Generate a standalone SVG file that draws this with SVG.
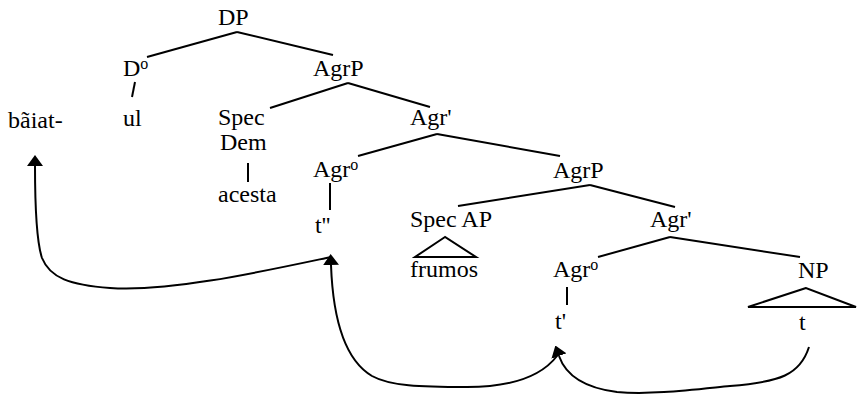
<svg xmlns="http://www.w3.org/2000/svg" width="857" height="395" viewBox="0 0 857 395">
  <style>
    text { font-family: "Liberation Serif", "Times New Roman", serif; font-size: 24px; fill: #000; }
    .sup { font-size: 16px; }
    .br { stroke: #000; stroke-width: 2; fill: none; }
    .mv { stroke: #000; stroke-width: 2; fill: none; marker-end: url(#head); }
  </style>
  <defs>
    <marker id="head" markerUnits="userSpaceOnUse" markerWidth="11" markerHeight="16" viewBox="0 0 11 16" refX="0" refY="8" orient="auto">
      <path d="M0,0 L11,8 L0,16 z" fill="#000"/>
    </marker>
  </defs>

  <rect width="857" height="395" fill="#fff"/>

  <!-- tree branches -->
  <g id="branches">
    <line class="br" x1="237" y1="32" x2="147" y2="57"/>
    <line class="br" x1="237" y1="32" x2="333" y2="55"/>
    <line class="br" x1="135" y1="82" x2="132" y2="97"/>
    <line class="br" x1="348" y1="83" x2="270" y2="108"/>
    <line class="br" x1="348" y1="83" x2="430" y2="107"/>
    <line class="br" x1="248" y1="163" x2="248" y2="182"/>
    <line class="br" x1="437" y1="134" x2="358" y2="156"/>
    <line class="br" x1="437" y1="134" x2="560" y2="156"/>
    <line class="br" x1="330" y1="183" x2="330" y2="210"/>
    <line class="br" x1="590" y1="185" x2="458" y2="206"/>
    <line class="br" x1="590" y1="185" x2="675" y2="207"/>
    <polygon class="br" points="445,237 415,257 476,257"/>
    <line class="br" x1="670" y1="237" x2="598" y2="257"/>
    <line class="br" x1="670" y1="237" x2="800" y2="257"/>
    <line class="br" x1="567" y1="287" x2="567" y2="305"/>
    <polygon class="br" points="806,288 748,307 856,307"/>
  </g>

  <!-- nodes -->
  <g id="dp"><text x="218" y="25">DP</text></g>
  <g id="d0"><text x="123" y="76">D<tspan class="sup" dy="-7">o</tspan></text></g>
  <g id="ul"><text x="123" y="126">ul</text></g>
  <g id="baiat"><text x="8" y="128">bãiat-</text></g>
  <g id="agrp1"><text x="313" y="76">AgrP</text></g>
  <g id="specdem"><text x="218" y="125">Spec</text><text x="220" y="150">Dem</text></g>
  <g id="acesta"><text x="218" y="202">acesta</text></g>
  <g id="agrbar1"><text x="410" y="125">Agr'</text></g>
  <g id="agr0-1"><text x="313" y="177">Agr<tspan class="sup" dy="-7">o</tspan></text></g>
  <g id="t2"><text x="315" y="233">t''</text></g>
  <g id="agrp2"><text x="553" y="178">AgrP</text></g>
  <g id="specap"><text x="410" y="227">Spec AP</text></g>
  <g id="frumos"><text x="410" y="277">frumos</text></g>
  <g id="agrbar2"><text x="650" y="227">Agr'</text></g>
  <g id="agr0-2"><text x="553" y="277">Agr<tspan class="sup" dy="-7">o</tspan></text></g>
  <g id="t1"><text x="555" y="329">t'</text></g>
  <g id="np"><text x="798" y="278">NP</text></g>
  <g id="t0"><text x="799" y="330">t</text></g>

  <!-- movement arrows -->
  <g id="connectors">
    <path class="mv" d="M809,347 C 800,375 780,382 730,386 C 690,390 650,395 617,392 C 585,388 566,376 559,356"/>
    <path class="mv" d="M557,356 C 540,378 510,387 467,387 C 420,387 390,386 372,376 C 345,360 333,320 331,265"/>
    <path class="mv" d="M331,257 C 260,272 170,292 110,288 C 70,285 50,278 42,258 C 36,240 35,200 35,166"/>
  </g>
</svg>
